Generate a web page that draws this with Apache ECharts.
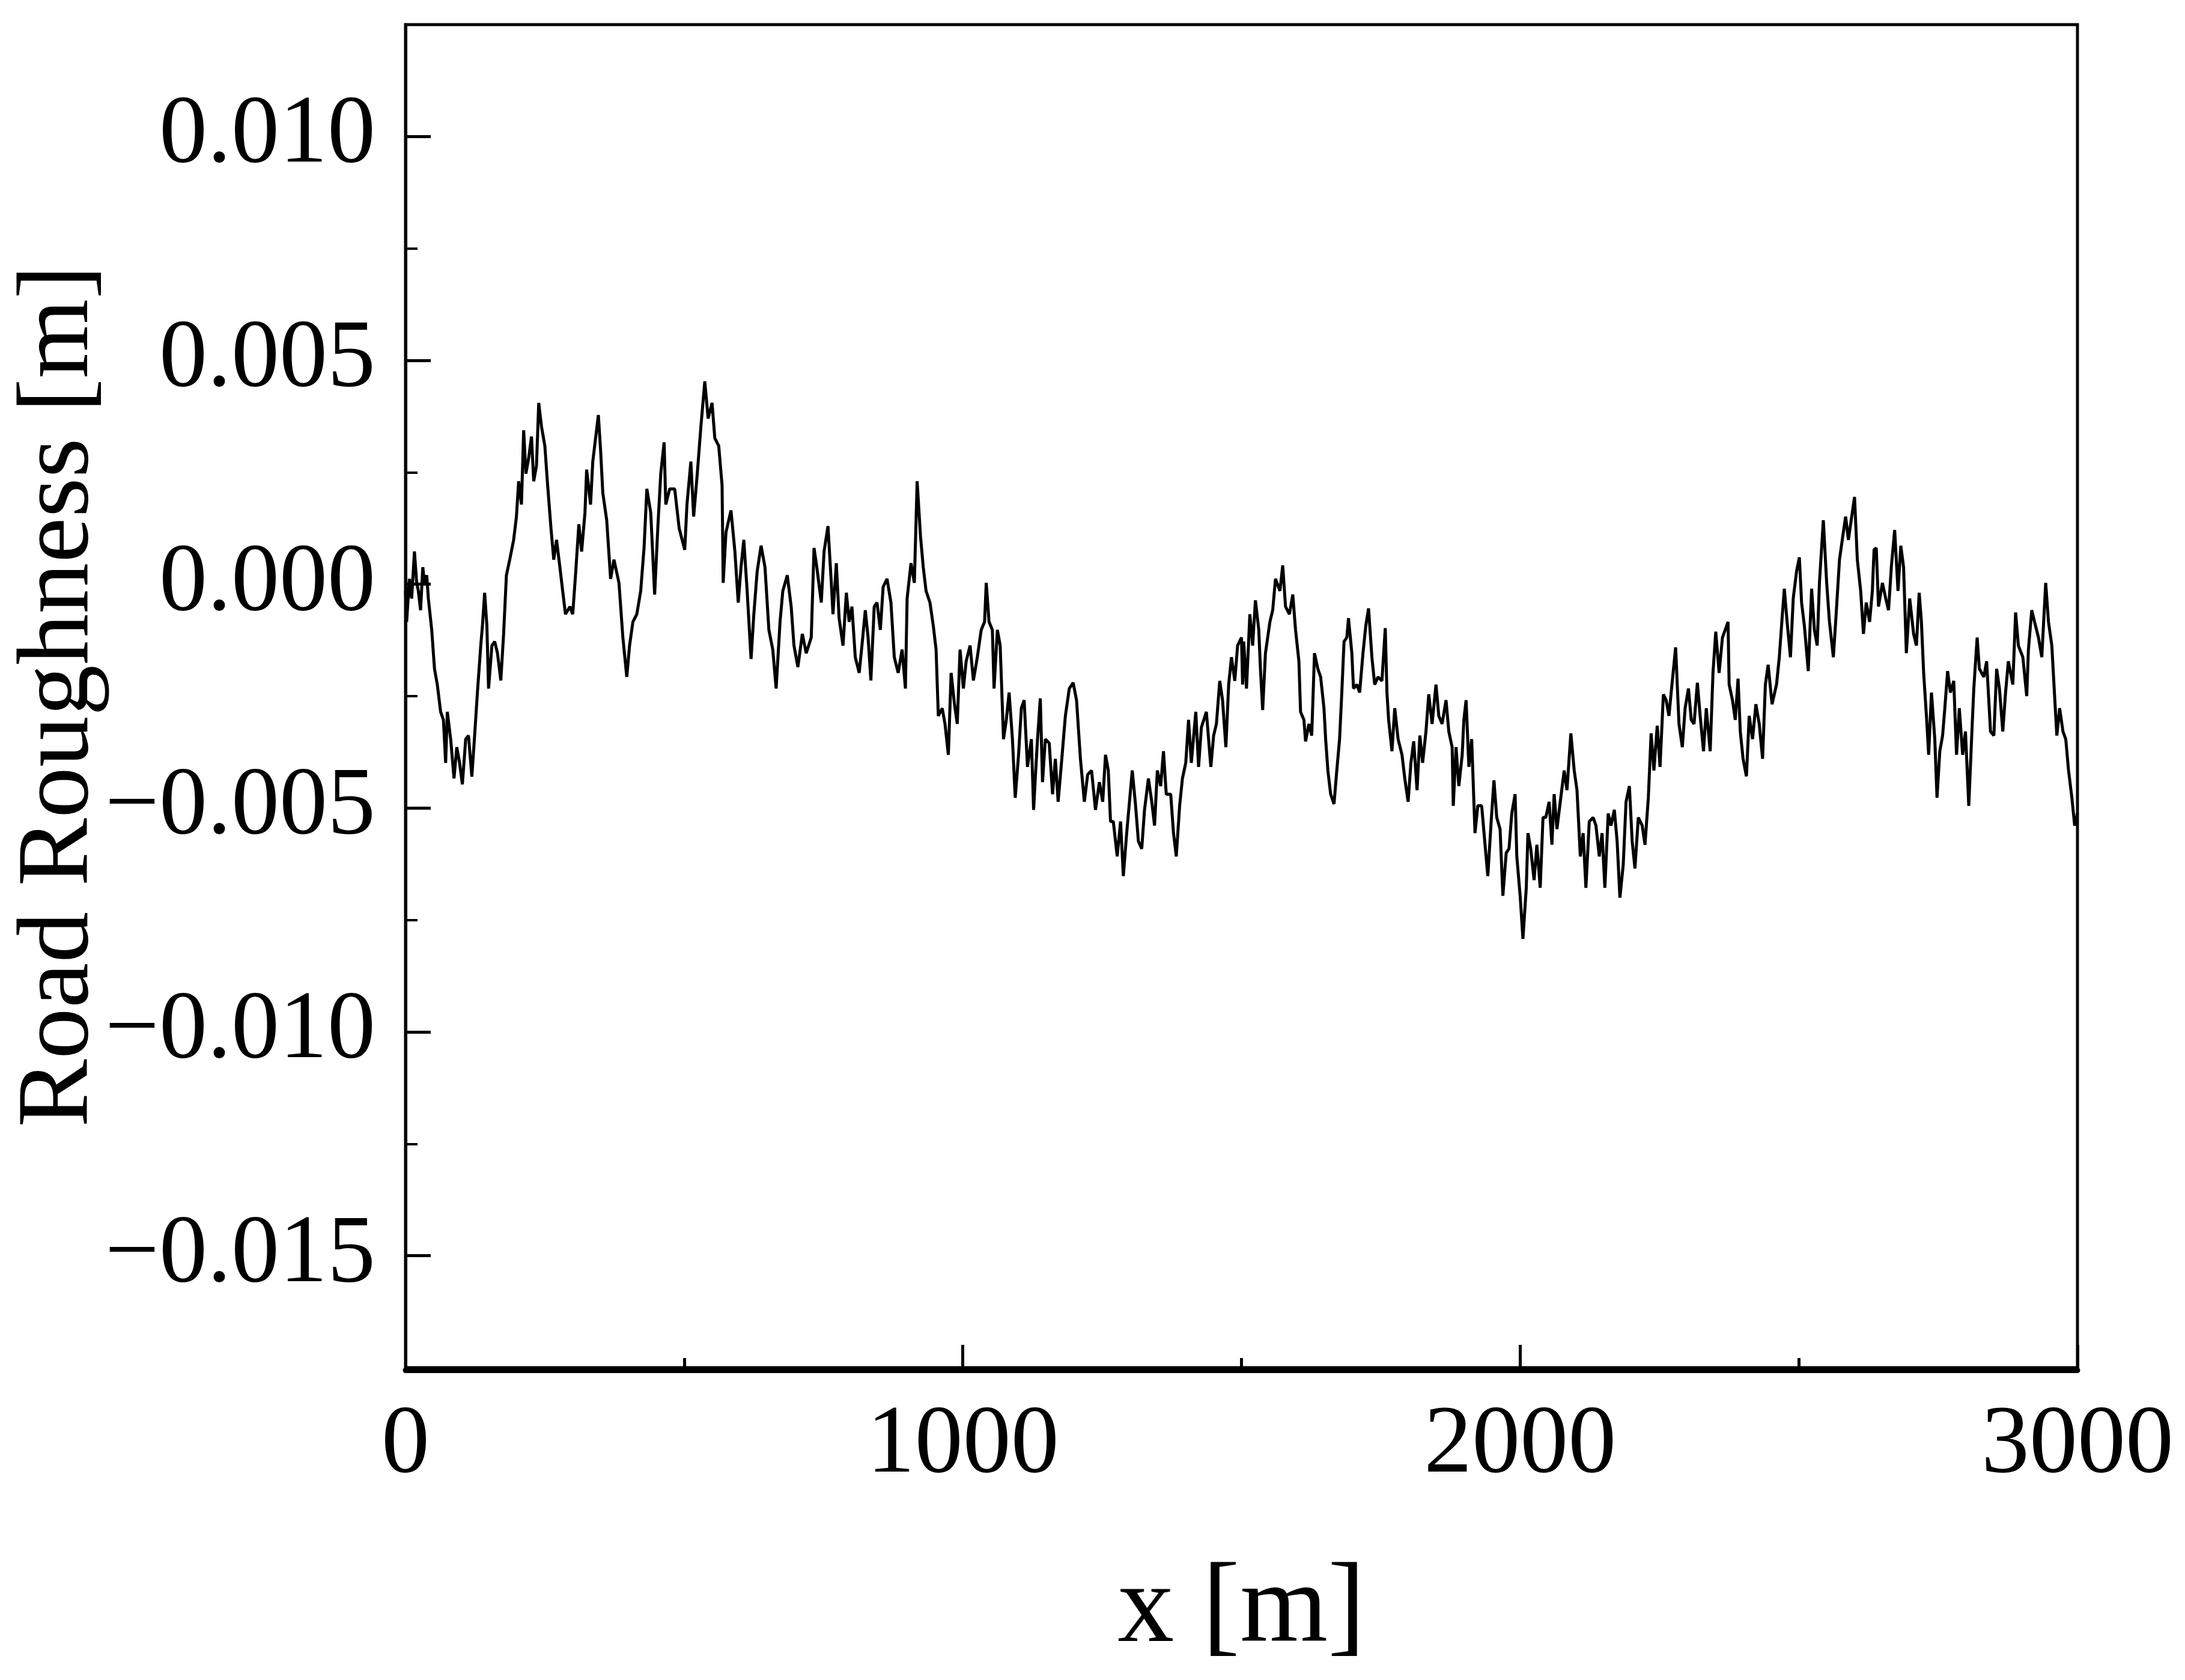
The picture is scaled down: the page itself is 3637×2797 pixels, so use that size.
<!DOCTYPE html>
<html>
<head>
<meta charset="utf-8">
<script src="https://cdn.jsdelivr.net/npm/echarts@6/dist/echarts.min.js"></script>
<style>html,body{margin:0;padding:0;background:#fff}#c{width:3637px;height:2797px}</style>
</head>
<body>
<div id="c"></div>
<script>
// distance along the road [m]
const distance = [
0, 2, 7, 11, 16, 20, 23, 27, 31, 34,
38, 41, 47, 52, 57, 63, 68, 72, 75, 81,
87, 92, 97, 102, 108, 113, 119, 124, 129, 135,
138, 142, 146, 149, 155, 160, 165, 171, 176, 181,
187, 194, 199, 203, 208, 212, 216, 221, 226, 230,
235, 239, 244, 250, 255, 261, 266, 271, 277, 282,
287, 295, 300, 305, 311, 316, 322, 325, 332, 336,
341, 346, 350, 354, 361, 368,
374, 383, 390, 397, 402, 408, 415, 422, 428, 433,
440, 447, 453, 458, 464, 467, 474, 483, 491, 501,
505, 512, 517, 523, 530, 537, 543, 550, 555, 562,
568, 570, 575, 584, 591, 597, 602, 607, 613, 620,
625, 631, 638, 645, 652, 659, 665, 672, 677, 685,
692, 697, 704, 712, 719, 728, 733, 738, 746,
751, 758, 764, 767, 773, 778, 785, 791, 796, 801,
807, 814, 819, 825, 830, 835, 841, 846, 852, 857,
864, 871, 877, 884, 891, 897, 900, 907, 913, 918,
924, 929, 934, 941, 947, 952, 956, 963, 968, 974,
979, 985, 990, 995, 1001, 1006, 1013, 1019, 1026, 1033,
1039, 1042, 1047, 1053, 1056, 1062, 1067, 1073, 1078, 1083,
1089, 1094, 1100, 1105, 1110, 1116, 1123,
1127, 1130, 1134, 1139, 1143, 1148, 1155, 1161, 1166, 1171,
1177, 1184, 1191, 1198, 1204, 1211, 1218, 1224, 1231, 1238,
1245, 1251, 1256, 1261, 1265, 1270, 1277, 1283, 1288, 1294,
1299, 1304, 1310, 1315, 1321, 1326, 1333, 1339, 1344, 1349,
1355, 1360, 1365, 1373, 1378, 1383, 1389, 1394, 1400, 1405,
1410, 1418, 1423, 1428, 1437, 1445, 1450, 1455, 1461, 1466,
1472, 1477, 1482, 1488, 1493, 1500, 1502,
1504, 1509, 1515, 1520, 1525, 1531, 1534, 1538, 1543, 1551,
1556, 1561, 1569, 1574, 1579, 1586, 1592, 1597, 1603, 1606,
1612, 1615, 1621, 1626, 1631, 1637, 1642, 1648, 1651, 1655,
1660, 1666, 1671, 1676, 1680, 1684, 1689, 1692, 1698, 1701,
1707, 1712, 1718, 1723, 1728, 1734, 1739, 1745, 1752, 1758,
1761, 1764, 1770, 1775, 1781, 1788, 1793, 1799, 1804, 1809,
1815, 1820, 1825, 1831, 1836, 1842, 1849, 1854, 1860, 1867,
1872, 1878, 1880,
1885, 1890, 1896, 1899, 1903, 1908, 1913, 1919, 1924, 1931,
1937, 1942, 1948, 1953, 1958, 1964, 1969, 1975, 1980, 1985,
1991, 1994, 2000, 2005, 2011, 2014, 2019, 2025, 2030, 2036,
2041, 2046, 2052, 2057, 2061, 2066, 2072, 2079, 2084, 2091,
2097, 2102, 2108, 2113, 2118, 2124, 2131, 2136, 2142, 2147,
2152, 2158, 2163, 2169, 2174, 2179, 2185, 2190, 2196, 2201,
2206, 2212, 2219, 2224, 2230, 2235, 2240, 2246, 2251, 2257,
2262, 2267, 2273, 2279, 2285, 2291, 2296, 2302, 2307, 2312,
2318, 2323, 2329, 2334, 2341, 2346, 2351, 2357, 2363, 2368,
2373, 2375, 2381, 2386, 2391, 2395, 2400, 2406, 2411, 2417,
2423, 2429, 2435, 2440, 2445, 2452, 2460, 2465, 2470, 2474,
2479, 2485, 2490, 2496, 2501, 2505, 2510, 2517, 2523, 2528,
2533, 2537, 2544, 2550, 2555, 2562, 2567, 2573, 2578, 2584,
2589, 2594, 2600, 2605, 2611, 2616, 2621, 2627, 2632, 2635,
2639, 2643, 2650, 2656, 2661, 2666, 2672, 2678, 2683, 2688,
2693, 2699, 2706, 2711, 2716, 2720, 2724, 2729, 2733, 2738,
2744, 2748, 2753, 2758, 2762, 2767, 2772, 2778, 2783, 2788,
2794, 2799, 2805, 2810, 2814, 2820, 2824, 2832, 2837, 2844,
2850, 2855, 2860, 2866, 2871, 2876, 2884, 2889, 2894, 2902,
2909, 2912, 2918, 2923, 2930, 2936, 2943, 2948, 2954, 2959,
2963, 2968, 2974, 2979, 2984, 2990, 2995, 3000
];

// road roughness [m]
const roughness = [
-0.00015, -0.00084, 0.00012, -0.00032, 0.00073, 0.00003, -0.00015, -0.00058, 0.00038, 0.00003,
0.00020, -0.00032, -0.00102, -0.00189, -0.00224, -0.00285, -0.00303, -0.00399, -0.00285, -0.00346,
-0.00434, -0.00364, -0.00399, -0.00447, -0.00346, -0.00338, -0.00430, -0.00338, -0.00242, -0.00137,
-0.00093, -0.00019, -0.00093, -0.00233, -0.00137, -0.00128, -0.00154, -0.00215, -0.00111, 0.00020,
0.00055, 0.00099, 0.00151, 0.00230, 0.00178, 0.00344, 0.00247, 0.00282, 0.00330, 0.00230,
0.00265, 0.00405, 0.00352, 0.00309, 0.00221, 0.00125, 0.00055, 0.00099, 0.00038, -0.00015,
-0.00067, -0.00050, -0.00067, 0.00020, 0.00134, 0.00073, 0.00160, 0.00256, 0.00178, 0.00274,
0.00326, 0.00378, 0.00300, 0.00204, 0.00143, 0.00012,
0.00055, 0.00003, -0.00119, -0.00207, -0.00137, -0.00084, -0.00067, -0.00015, 0.00081, 0.00213,
0.00160, -0.00023, 0.00134, 0.00247, 0.00317, 0.00178, 0.00213, 0.00213, 0.00125, 0.00077,
0.00178, 0.00274, 0.00151, 0.00239, 0.00352, 0.00453, 0.00370, 0.00405, 0.00326, 0.00309,
0.00221, 0.00003, 0.00116, 0.00165, 0.00073, -0.00041, 0.00038, 0.00099, -0.00015, -0.00167,
-0.00067, 0.00029, 0.00086, 0.00038, -0.00102, -0.00146, -0.00233, -0.00084, -0.00015, 0.00020,
-0.00050, -0.00137, -0.00185, -0.00111, -0.00154, -0.00119, 0.00081, 0.00038, -0.00041,
0.00073, 0.00130, 0.00003, -0.00067, 0.00047, -0.00076, -0.00137, -0.00019, -0.00084, -0.00050,
-0.00163, -0.00198, -0.00137, -0.00058, -0.00119, -0.00215, -0.00050, -0.00041, -0.00102, -0.00006,
0.00012, -0.00041, -0.00163, -0.00198, -0.00146, -0.00233, -0.00032, 0.00047, 0.00003, 0.00230,
0.00108, 0.00038, -0.00015, -0.00041, -0.00093, -0.00146, -0.00294, -0.00277, -0.00312, -0.00381,
-0.00198, -0.00268, -0.00312, -0.00146, -0.00233, -0.00172, -0.00137, -0.00215, -0.00163, -0.00102,
-0.00084, 0.00003, -0.00084, -0.00102, -0.00233, -0.00102, -0.00137, -0.00346, -0.00303, -0.00242,
-0.00346, -0.00477, -0.00381, -0.00277, -0.00259, -0.00408, -0.00346,
-0.00504, -0.00434, -0.00346, -0.00255, -0.00442, -0.00346, -0.00355, -0.00469, -0.00390, -0.00486,
-0.00399, -0.00294, -0.00233, -0.00220, -0.00259, -0.00390, -0.00486, -0.00425, -0.00416, -0.00504,
-0.00442, -0.00486, -0.00381, -0.00416, -0.00530, -0.00530, -0.00608, -0.00530, -0.00652, -0.00556,
-0.00486, -0.00416, -0.00495, -0.00574, -0.00591, -0.00504, -0.00434, -0.00486, -0.00539, -0.00416,
-0.00451, -0.00373, -0.00469, -0.00469, -0.00556, -0.00608, -0.00495, -0.00434, -0.00399, -0.00303,
-0.00399, -0.00285, -0.00408, -0.00320, -0.00285, -0.00408, -0.00338, -0.00312, -0.00216, -0.00259,
-0.00364, -0.00224, -0.00163, -0.00216, -0.00137, -0.00119, -0.00224,
-0.00128, -0.00233, -0.00067, -0.00137, -0.00036, -0.00102, -0.00189, -0.00281, -0.00154, -0.00084,
-0.00058, 0.00012, -0.00015, 0.00042, -0.00050, -0.00067, -0.00023, -0.00102, -0.00172, -0.00285,
-0.00303, -0.00351, -0.00312, -0.00338, -0.00154, -0.00189, -0.00207, -0.00277, -0.00346, -0.00416,
-0.00469, -0.00491, -0.00416, -0.00346, -0.00242, -0.00128, -0.00119, -0.00076, -0.00154, -0.00233,
-0.00224, -0.00242, -0.00154, -0.00093, -0.00054, -0.00163, -0.00224, -0.00207, -0.00216, -0.00098,
-0.00242, -0.00303, -0.00373, -0.00277, -0.00346, -0.00381, -0.00434, -0.00486, -0.00399, -0.00351,
-0.00460, -0.00338, -0.00399, -0.00329, -0.00246, -0.00312, -0.00224, -0.00294, -0.00312, -0.00259,
-0.00329, -0.00364, -0.00495,
-0.00364, -0.00451, -0.00381, -0.00303, -0.00259, -0.00408, -0.00346, -0.00556, -0.00495, -0.00495,
-0.00582, -0.00652, -0.00530, -0.00438, -0.00521, -0.00547, -0.00696, -0.00600, -0.00591, -0.00512,
-0.00469, -0.00608, -0.00696, -0.00792, -0.00678, -0.00556, -0.00591, -0.00661, -0.00582, -0.00678,
-0.00521, -0.00521, -0.00486, -0.00582, -0.00469, -0.00547, -0.00486, -0.00416, -0.00460, -0.00333,
-0.00416, -0.00460, -0.00608, -0.00556, -0.00678, -0.00530, -0.00521, -0.00539, -0.00608, -0.00556,
-0.00678, -0.00512, -0.00539, -0.00504, -0.00574, -0.00700, -0.00626, -0.00486, -0.00451, -0.00574,
-0.00635, -0.00521, -0.00539, -0.00582, -0.00477, -0.00333, -0.00416, -0.00316, -0.00408, -0.00246,
-0.00259, -0.00294, -0.00216, -0.00141, -0.00312, -0.00364, -0.00277, -0.00233, -0.00303, -0.00312,
-0.00220, -0.00294, -0.00373, -0.00277, -0.00373, -0.00198, -0.00106, -0.00198, -0.00119, -0.00102,
-0.00084, -0.00224, -0.00259, -0.00303, -0.00211, -0.00329, -0.00390, -0.00429, -0.00294, -0.00346,
-0.00268, -0.00312, -0.00390, -0.00224, -0.00180, -0.00268, -0.00224, -0.00163, -0.00076, -0.00010,
-0.00084, -0.00163, -0.00032, 0.00029, 0.00060, -0.00041, -0.00093, -0.00194, -0.00010, -0.00102,
-0.00137, 0.00003, 0.00143, 0.00003, -0.00084, -0.00163, -0.00067, 0.00055, 0.00099, 0.00151,
0.00099, 0.00143, 0.00195, 0.00055, -0.00015, -0.00111, -0.00041, -0.00084, -0.00015, 0.00077,
0.00081, -0.00050, 0.00003, -0.00032, -0.00058, 0.00038, 0.00121, -0.00015, 0.00086, 0.00038,
-0.00154, -0.00032, -0.00111, -0.00137, -0.00019, -0.00084, -0.00198, -0.00294, -0.00381, -0.00242,
-0.00346, -0.00477, -0.00373, -0.00338, -0.00277, -0.00194, -0.00242, -0.00216, -0.00381, -0.00277,
-0.00381, -0.00329, -0.00495, -0.00346, -0.00233, -0.00119, -0.00189, -0.00207, -0.00172, -0.00329,
-0.00338, -0.00189, -0.00233, -0.00329, -0.00242, -0.00172, -0.00224, -0.00063, -0.00137, -0.00163,
-0.00250, -0.00146, -0.00058, -0.00084, -0.00119, -0.00163, 0.00003, -0.00084, -0.00137, -0.00250,
-0.00338, -0.00277, -0.00329, -0.00346, -0.00416, -0.00477, -0.00539, -0.00512
];

const yMajorTicks = [-0.015, -0.010, -0.005, 0, 0.005, 0.010];
const xAxisName = 'x [m]';
const yAxisName = 'Road Roughness [m]';

const FONT = '"Liberation Serif", "Times New Roman", serif';
const fmtY = v => (v < 0 ? '\u2212' : '') + Math.abs(v).toFixed(3);
const fmtX = v => String(Math.round(v));
const seriesData = distance.map((d, i) => [d, roughness[i]]);

const chart = echarts.init(document.getElementById('c'), null, {renderer: 'canvas'});
chart.setOption({
  animation: false,
  backgroundColor: '#ffffff',
  grid: {left: 675, top: 41, width: 2783, height: 2236, show: true,
         containLabel: false, outerBoundsMode: 'none',
         borderColor: '#000', borderWidth: 5, backgroundColor: 'transparent'},
  xAxis: {
    type: 'value', min: 0, max: 3000, interval: 1000, offset: 4,
    name: xAxisName, nameLocation: 'middle', nameGap: 308, nameMoveOverlap: false,
    nameTextStyle: {fontFamily: FONT, fontSize: 188, color: '#000'},
    axisLine: {show: true, onZero: false, lineStyle: {color: '#000', width: 9}},
    axisTick: {show: true, inside: true, length: 42, lineStyle: {color: '#000', width: 5}},
    minorTick: {show: true, splitNumber: 2, length: 20, lineStyle: {color: '#000', width: 5}},
    axisLabel: {margin: 47, formatter: fmtX, fontFamily: FONT, fontSize: 160, color: '#000'},
    splitLine: {show: false}
  },
  yAxis: [{
    type: 'value', min: -0.0175, max: 0.0125, position: 'left',
    name: yAxisName, nameLocation: 'middle', nameGap: 490, nameMoveOverlap: false,
    nameTextStyle: {fontFamily: FONT, fontSize: 170, color: '#000'},
    axisLine: {show: true, onZero: false, lineStyle: {color: '#000', width: 5}},
    axisTick: {show: true, inside: true, length: 42, customValues: yMajorTicks,
               lineStyle: {color: '#000', width: 5}},
    axisLabel: {customValues: yMajorTicks, formatter: fmtY, margin: 50,
                fontFamily: FONT, fontSize: 160, color: '#000', padding: [0, 0, 22, 0]},
    splitLine: {show: false}
  }, {
    type: 'value', min: -0.0175, max: 0.0125, interval: 0.0025, position: 'left',
    axisLine: {show: false, onZero: false},
    axisTick: {show: true, inside: true, length: 20, lineStyle: {color: '#000', width: 4}},
    axisLabel: {show: false},
    splitLine: {show: false}
  }],
  series: [{
    type: 'line', data: seriesData, showSymbol: false, symbol: 'none',
    lineStyle: {color: '#000', width: 5}, clip: true
  }]
});
</script>
</body>
</html>
